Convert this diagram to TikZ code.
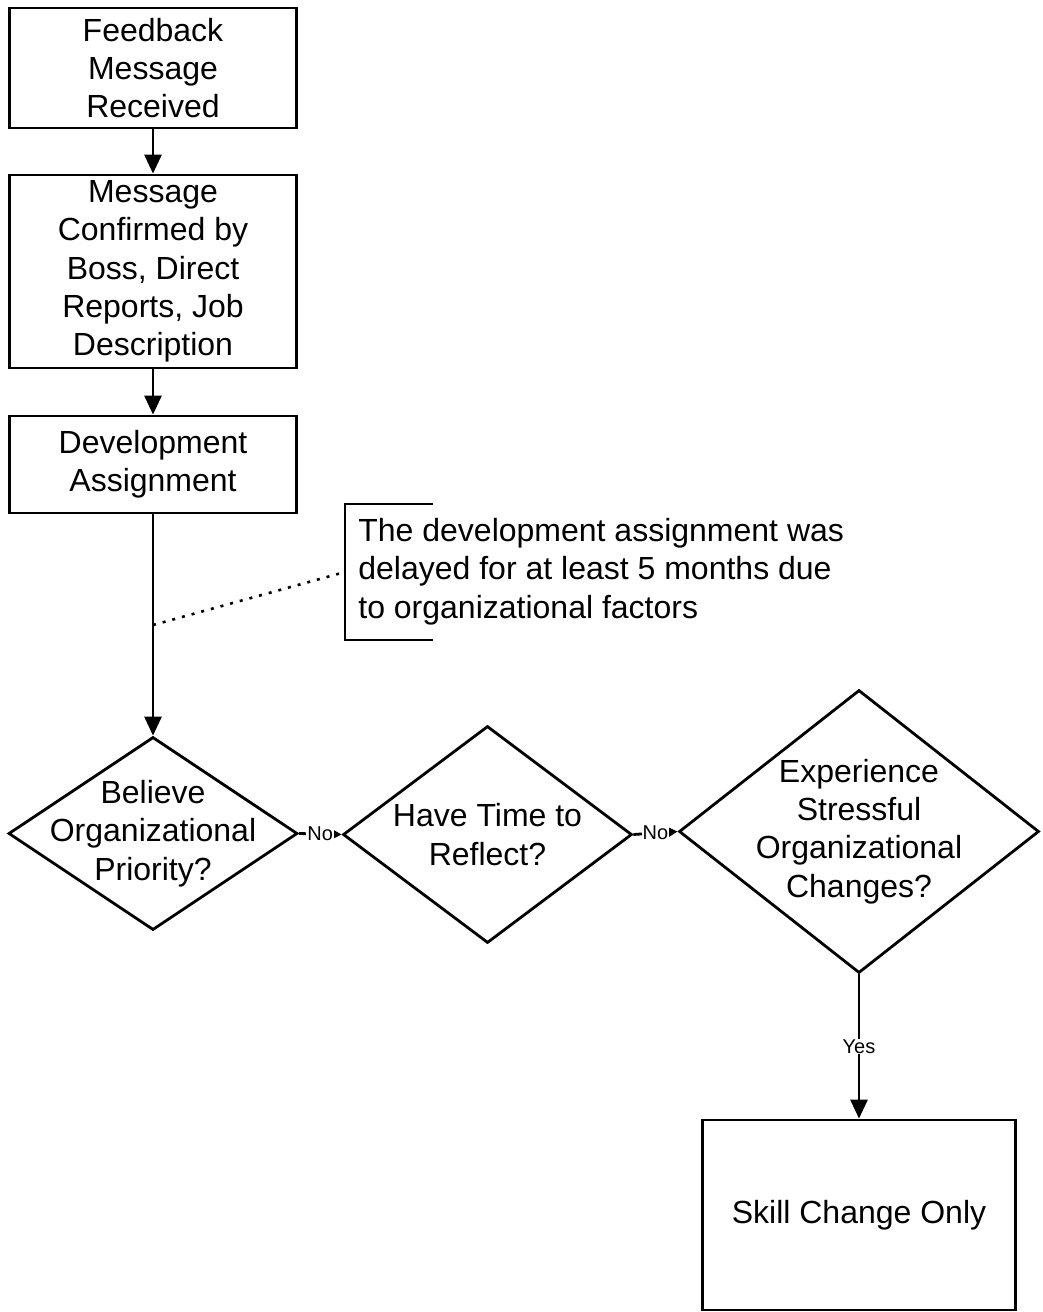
\documentclass[tikz,border=0pt]{standalone}
\usepackage{fontspec}
\setmainfont{Liberation Sans}
\usetikzlibrary{arrows.meta,shapes.geometric}
\begin{document}
\begin{tikzpicture}[x=1pt,y=-1pt,
  line width=2.8pt,
  big/.style={font=\fontsize{32}{38.3}\selectfont},
  boxnode/.style={draw,rectangle,inner sep=0pt,align=center,big},
  dia/.style={draw,diamond,inner sep=0pt,aspect=1.5},
  dtext/.style={align=center,big,inner sep=0pt},
  lab/.style={fill=white,inner sep=1pt,font=\fontsize{20}{22}\selectfont},
  bigarrow/.style={-{Triangle[length=19pt,width=17pt]}},
  smallarrow/.style={-{Triangle[length=9pt,width=9pt]}}]
\useasboundingbox (0,0) rectangle (1043,1312);
\fill[white] (0,0) rectangle (1043,1312);

\node[boxnode,minimum width=287pt,minimum height=120pt] (b1) at (153,68) {Feedback\\Message\\Received};
\node[boxnode,minimum width=287pt,minimum height=193pt] (b2) at (153,271.5) {Message\\Confirmed by\\Boss, Direct\\Reports, Job\\Description};
\node[boxnode,minimum width=287pt,minimum height=97pt] (b3) at (153,464.5) {Development\\Assignment};

\node[dia,minimum width=289pt,minimum height=193pt] (d1) at (153,833.5) {};
\node[dtext] (t1) at (d1.center) {Believe\\Organizational\\Priority?};
\node[dia,minimum width=289pt,minimum height=217pt] (d2) at (487.5,834.5) {};
\node[dtext] (t2) at (d2.center) {Have Time to\\Reflect?};
\node[dia,minimum width=360pt,minimum height=283pt] (d3) at (859,831.5) {};
\node[dtext] (t3) at (d3.center) {Experience\\Stressful\\Organizational\\Changes?};

\node[boxnode,minimum width=313pt,minimum height=190pt] (b4) at (859,1215) {Skill Change Only};

\draw[bigarrow] (b1.south) -- (b2.north);
\draw[bigarrow] (b2.south) -- (b3.north);
\draw[bigarrow] (b3.south) -- (d1.north);
\draw[smallarrow] (d1.east) -- node[lab] (no1) {No} (d2.west);
\draw[smallarrow] (d2.east) -- node[lab] (no2) {No} (d3.west);
\draw[bigarrow] (d3.south) -- node[lab] (yes) {Yes} (b4.north);

% annotation
\node[anchor=west,align=left,big,inner sep=0pt] (note) at (357,571.5)
  {The development assignment was\\delayed for at least 5 months due\\to organizational factors};
\draw (433,504) -- (345,504) -- (345,640) -- (433,640);
\coordinate (nb) at (345,572);
\coordinate (tap) at (153,625);
\draw[line width=2.6pt,dash pattern=on 3pt off 7pt] (tap) -- (nb);
\end{tikzpicture}
\end{document}
